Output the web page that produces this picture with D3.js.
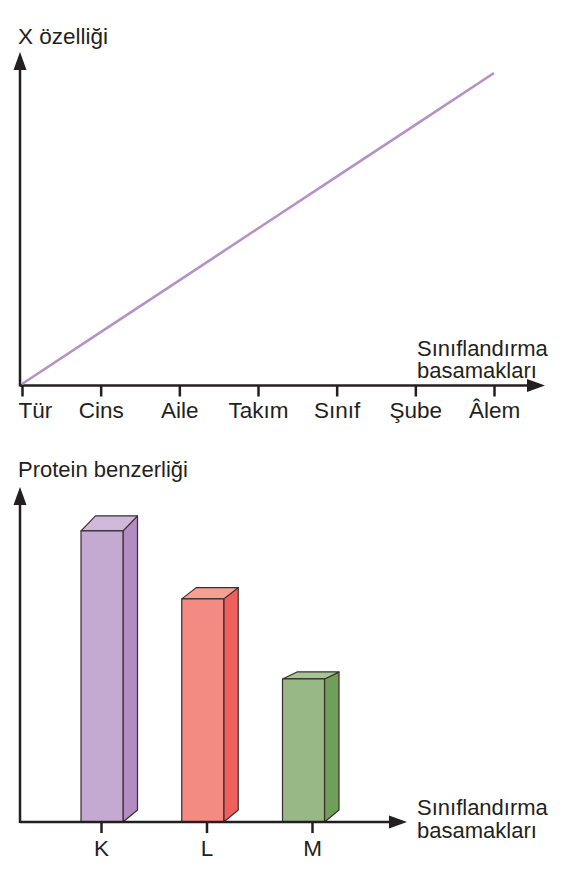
<!DOCTYPE html>
<html lang="tr">
  <head>
    <meta charset="UTF-8">
    <title>Sınıflandırma basamakları</title>
    <style>
      body { margin: 0; background: #fff; }
      text { font-family: "Liberation Sans", Arial, sans-serif; fill: #231f20; }
      .axis-line { stroke: #231f20; stroke-width: 2.5; fill: none; }
      .tick line { stroke: #231f20; stroke-width: 2.5; }
      .bar-face { stroke: #3a2e2f; stroke-width: 1.2; stroke-linejoin: round; }
    </style>
    <script src="https://d3js.org/d3.v7.min.js"></script>
  </head>
  <body>
    <script>
      // top chart data
      const ranks = ["Tür", "Cins", "Aile", "Takım", "Sınıf", "Şube", "Âlem"];
      const xFeature = [0, 1, 2, 3, 4, 5, 6];

      // bottom chart data
      const groups = ["K", "L", "M"];
      const protein = [86.9, 66.6, 42.7];
      const frontColors = ["#c4a9d1", "#f48b82", "#98b986"];
      const sideColors = ["#b38cc2", "#ee5f5e", "#6f9f59"];
      const topColors = ["#cfb8da", "#f5a093", "#a6c596"];

      const width = 563;
      const height = 871;

      const svg = d3.select("body")
        .append("svg")
        .attr("width", width)
        .attr("height", height);

      function arrowHead(g, x, y, dir) {
        // dir: "up" or "right"
        const len = 18, half = 6.5;
        const pts = dir === "up"
          ? [[x, y], [x - half, y + len], [x + half, y + len]]
          : [[x, y], [x - len, y - half], [x - len, y + half]];
        g.append("path")
          .attr("d", d3.line()(pts) + "Z")
          .attr("fill", "#231f20");
      }

      function axisTitle(g, x, y1, y2) {
        const t = g.append("text")
          .attr("font-size", "22px");
        t.append("tspan").attr("x", x).attr("y", y1).text("Sınıflandırma");
        t.append("tspan").attr("x", x).attr("y", y2).text("basamakları");
      }

      // ---------- top chart ----------
      const topChart = svg.append("g");
      const originX = 20, baseTop = 385.5;

      const x = d3.scalePoint()
        .domain(ranks)
        .range([22, 494]);

      const y = d3.scaleLinear()
        .domain([0, 6])
        .range([384, 73]);

      topChart.append("g")
        .attr("transform", `translate(0, ${baseTop})`)
        .call(d3.axisBottom(x).tickSize(11).tickSizeOuter(0).tickPadding(6))
        .call(g => g.select(".domain").remove())
        .call(g => g.selectAll(".tick text")
          .attr("font-size", "22.5px")
          .attr("font-family", "Liberation Sans, Arial, sans-serif")
          .attr("fill", "#231f20"))
        .call(g => g.selectAll(".tick").filter((d, i) => i === 0).select("text")
          .attr("text-anchor", "start")
          .attr("dx", -4));

      topChart.append("line")
        .attr("class", "axis-line")
        .attr("x1", originX).attr("y1", baseTop)
        .attr("x2", 532).attr("y2", baseTop);
      arrowHead(topChart, 545, baseTop, "right");

      topChart.append("line")
        .attr("class", "axis-line")
        .attr("x1", originX).attr("y1", baseTop + 1)
        .attr("x2", originX).attr("y2", 64);
      arrowHead(topChart, originX, 52, "up");

      topChart.append("path")
        .datum(xFeature)
        .attr("fill", "none")
        .attr("stroke", "#b592c6")
        .attr("stroke-width", 2.6)
        .attr("d", d3.line()
          .x((d, i) => x(ranks[i]))
          .y(d => y(d)));

      topChart.append("text")
        .attr("x", 18).attr("y", 44)
        .attr("font-size", "22.5px")
        .text("X özelliği");

      axisTitle(topChart, 417, 355.5, 378);

      // ---------- bottom chart ----------
      const bottomChart = svg.append("g");
      const baseBot = 822;

      const gx = d3.scalePoint()
        .domain(groups)
        .range([101, 312]);

      const barX = d3.scalePoint()
        .domain(groups)
        .range([102, 303.5]);

      const py = d3.scaleLinear()
        .domain([0, 100])
        .range([baseBot, 487]);

      // top face depth grows with bar height
      const depthY = d3.scaleLinear()
        .domain([0, 100])
        .range([-0.7, 17.3]);

      const barW = 42, dx = 14.5, dyBottom = 12;

      const bars = bottomChart.selectAll(".bar")
        .data(groups.map((g, i) => ({ g, v: protein[i], i })))
        .enter()
        .append("g")
        .attr("class", "bar");

      bars.append("path")
        .attr("class", "bar-face")
        .attr("fill", d => sideColors[d.i])
        .attr("d", d => {
          const r = barX(d.g) + barW / 2, t = py(d.v), dt = depthY(d.v);
          return d3.line()([[r, baseBot], [r, t], [r + dx, t - dt], [r + dx, baseBot - dyBottom]]) + "Z";
        });

      bars.append("path")
        .attr("class", "bar-face")
        .attr("fill", d => topColors[d.i])
        .attr("d", d => {
          const l = barX(d.g) - barW / 2, r = l + barW, t = py(d.v), dt = depthY(d.v);
          return d3.line()([[l, t], [r, t], [r + dx, t - dt], [l + dx, t - dt]]) + "Z";
        });

      bars.append("rect")
        .attr("class", "bar-face")
        .attr("fill", d => frontColors[d.i])
        .attr("x", d => barX(d.g) - barW / 2)
        .attr("y", d => py(d.v))
        .attr("width", barW)
        .attr("height", d => baseBot - py(d.v));

      bottomChart.append("g")
        .attr("transform", `translate(0, ${baseBot})`)
        .call(d3.axisBottom(gx).tickSize(11).tickSizeOuter(0).tickPadding(7))
        .call(g => g.select(".domain").remove())
        .call(g => g.selectAll(".tick text")
          .attr("font-size", "22.5px")
          .attr("font-family", "Liberation Sans, Arial, sans-serif")
          .attr("fill", "#231f20"));

      bottomChart.append("line")
        .attr("class", "axis-line")
        .attr("x1", originX).attr("y1", baseBot)
        .attr("x2", 394).attr("y2", baseBot);
      arrowHead(bottomChart, 407, baseBot, "right");

      bottomChart.append("line")
        .attr("class", "axis-line")
        .attr("x1", originX).attr("y1", baseBot + 1)
        .attr("x2", originX).attr("y2", 499);
      arrowHead(bottomChart, originX, 487, "up");

      bottomChart.append("text")
        .attr("x", 18).attr("y", 477)
        .attr("font-size", "22px")
        .text("Protein benzerliği");

      axisTitle(bottomChart, 417, 815, 837.5);
    </script>
  </body>
</html>
